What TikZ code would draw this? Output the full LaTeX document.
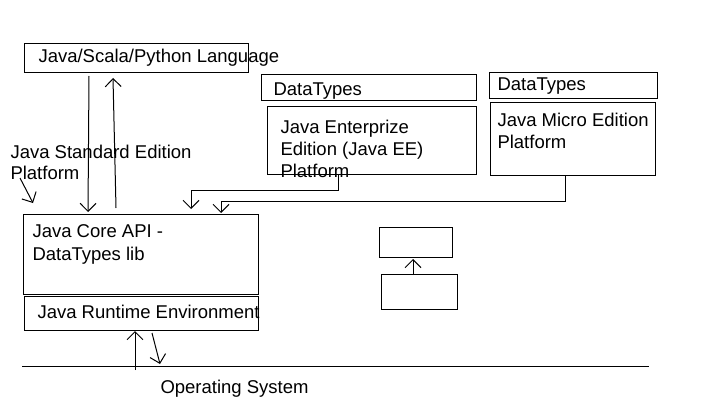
\documentclass[tikz,border=0pt]{standalone}
\usepackage{fontspec}
\setmainfont{Liberation Sans}
\usetikzlibrary{arrows.meta,calc}
\begin{document}
\begin{tikzpicture}[x=1pt,y=-1pt,line width=1pt,
  box/.style={draw,rectangle,inner sep=0pt,outer sep=0pt},
  lbl/.style={anchor=base west,inner sep=0pt,font=\fontsize{18.5}{22}\selectfont},
  arr/.style={-{Straight Barb[length=8pt,width=16pt]}}]
\useasboundingbox (0,0) rectangle (709,417);
% boxes
\node[box,minimum width=224pt,minimum height=29pt] (lang) at (136,58.5) {};
\node[box,minimum width=215pt,minimum height=26pt] (dt1) at (368.5,88) {};
\node[box,minimum width=209pt,minimum height=67pt] (ee) at (371.5,140.5) {};
\node[box,minimum width=168pt,minimum height=26pt] (dt2) at (573,86) {};
\node[box,minimum width=165pt,minimum height=72pt] (me) at (572.5,139) {};
\node[box,minimum width=235pt,minimum height=80pt] (core) at (140.5,254) {};
\node[box,minimum width=234pt,minimum height=34pt] (jre) at (141,313) {};
\node[box,minimum width=73pt,minimum height=30pt] (sa) at (415.5,242) {};
\node[box,minimum width=76pt,minimum height=35pt] (sb) at (419,291.5) {};
% texts
\node[lbl] (tlang) at (38,63) {Java/Scala/Python Language};
\node[lbl] (tdt1) at (273,96) {DataTypes};
\node[lbl] (tdt2) at (497,91) {DataTypes};
\node[lbl] (tee1) at (280,133) {Java Enterprize};
\node[lbl] (tee2) at (280,155) {Edition (Java EE)};
\node[lbl] (tee3) at (280,177) {Platform};
\node[lbl] (tme1) at (497,127) {Java Micro Edition};
\node[lbl] (tme2) at (497,149) {Platform};
\node[lbl] (tse1) at (10,158) {Java Standard Edition};
\node[lbl] (tse2) at (10,179) {Platform};
\node[lbl] (tcore1) at (32,237) {Java Core API -};
\node[lbl] (tcore2) at (32,260) {DataTypes lib};
\node[lbl] (tjre) at (37,318) {Java Runtime Environment};
\node[lbl] (tos) at (160,393) {Operating System};
% OS line
\coordinate (osl) at (22,366);
\coordinate (osr) at (649,366);
\draw (osl) -- (osr);
% connectors
\draw[arr] ([shift={(65,3)}]lang.south west) -- ([shift={(65,-2)}]core.north west);
\draw[arr] ([shift={(93,-6)}]core.north west) -- ([shift={(89,5)}]lang.south west);
\draw[arr] ([xshift=71pt]ee.south west) -- ++(0,16) -| ([shift={(168,-5)}]core.north west);
\draw[arr] ([xshift=75pt]me.south west) -- ++(0,26) -| ([shift={(198,-1)}]core.north west);
\coordinate (sestart) at (20,178);
\draw[arr] (sestart) -- ([shift={(10,-11)}]core.north west);
\coordinate (upstart) at (135,370);
\draw[arr] (upstart) -- ([shift={(111,1)}]jre.south west);
\coordinate (downend) at (160,364);
\draw[arr] ([shift={(128,3)}]jre.south west) -- (downend);
\draw[arr] ([shift={(32,1)}]sb.north west) -- ([shift={(34,2)}]sa.south west);
\end{tikzpicture}
\end{document}
